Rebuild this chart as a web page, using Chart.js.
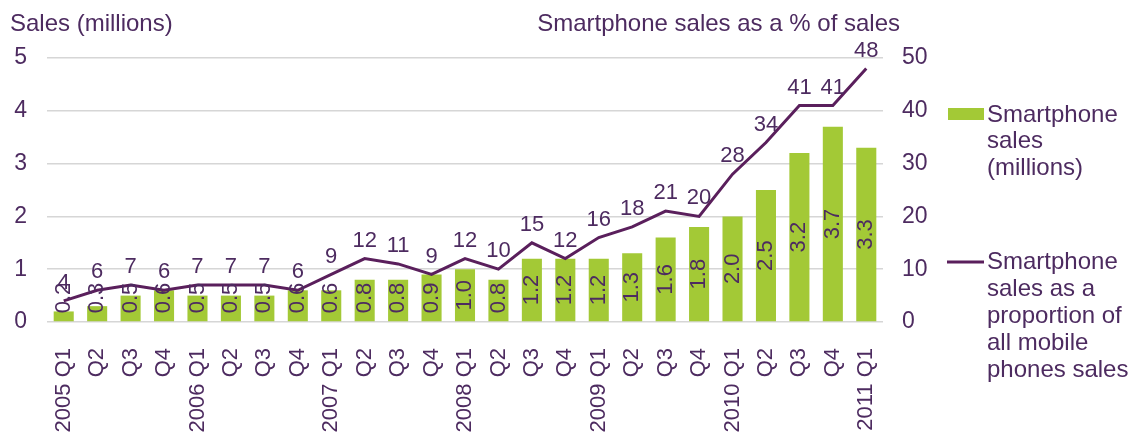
<!DOCTYPE html>
<html>
<head>
<meta charset="utf-8">
<script src="https://cdn.jsdelivr.net/npm/chart.js@4.4.1/dist/chart.umd.min.js"></script>
<style>
  html, body { margin: 0; padding: 0; background: #fff; }
  #wrap { width: 1139px; height: 437px; }
</style>
</head>
<body>
<div id="wrap"><canvas id="salesChart" width="1139" height="437"></canvas></div>
<script>
  // data
  const quarters = [
    "2005 Q1", "Q2", "Q3", "Q4",
    "2006 Q1", "Q2", "Q3", "Q4",
    "2007 Q1", "Q2", "Q3", "Q4",
    "2008 Q1", "Q2", "Q3", "Q4",
    "2009 Q1", "Q2", "Q3", "Q4",
    "2010 Q1", "Q2", "Q3", "Q4",
    "2011 Q1"
  ];
  const salesMillions = [
    0.2, 0.3, 0.5, 0.6, 0.5, 0.5, 0.5, 0.6, 0.6, 0.8, 0.8, 0.9,
    1.0, 0.8, 1.2, 1.2, 1.2, 1.3, 1.6, 1.8, 2.0, 2.5, 3.2, 3.7, 3.3
  ];
  const sharePercent = [
    4, 6, 7, 6, 7, 7, 7, 6, 9, 12, 11, 9,
    12, 10, 15, 12, 16, 18, 21, 20, 28, 34, 41, 41, 48
  ];
  const leftTicks = [0, 1, 2, 3, 4, 5];
  const rightTicks = [0, 10, 20, 30, 40, 50];

  const green = "#a3c936";
  const purple = "#5a1f5c";
  const textColor = "#4d2b60";
  const FONT = "'Liberation Sans', Arial, sans-serif";

  // titles, legend and value labels
  const extras = {
    id: "extras",
    afterDatasetsDraw(chart) {
      const ctx = chart.ctx;
      ctx.save();
      ctx.fillStyle = textColor;

      // bar labels, rotated, inside the bars
      ctx.font = "22px " + FONT;
      chart.getDatasetMeta(1).data.forEach(function (bar, i) {
        const txt = salesMillions[i].toFixed(1);
        const w = ctx.measureText(txt).width;
        const mid = (bar.y + bar.base) / 2;
        const cy = Math.min(mid, bar.base - 8 - w / 2);
        ctx.save();
        ctx.translate(bar.x, cy);
        ctx.rotate(-Math.PI / 2);
        ctx.textAlign = "center";
        ctx.textBaseline = "middle";
        ctx.fillText(txt, 0, 0);
        ctx.restore();
      });

      // line labels above the points
      ctx.textAlign = "center";
      ctx.textBaseline = "bottom";
      chart.getDatasetMeta(0).data.forEach(function (pt, i) {
        ctx.fillText(String(sharePercent[i]), pt.x, pt.y - 7);
      });
      ctx.restore();
    },
    afterDraw(chart) {
      const ctx = chart.ctx;
      ctx.save();
      ctx.fillStyle = textColor;
      ctx.font = "24px " + FONT;
      ctx.textBaseline = "middle";

      ctx.textAlign = "left";
      ctx.fillText("Sales (millions)", 10, 24);
      ctx.textAlign = "right";
      ctx.fillText("Smartphone sales as a % of sales", 900, 24);

      // legend
      ctx.textAlign = "left";
      ctx.fillStyle = green;
      ctx.fillRect(948, 108, 36, 12);
      ctx.fillStyle = textColor;
      ["Smartphone", "sales", "(millions)"].forEach(function (t, i) {
        ctx.fillText(t, 987, 115 + i * 26.5);
      });

      ctx.strokeStyle = purple;
      ctx.lineWidth = 3;
      ctx.beginPath();
      ctx.moveTo(947, 262);
      ctx.lineTo(984, 262);
      ctx.stroke();
      ["Smartphone", "sales as a", "proportion of", "all mobile", "phones sales"].forEach(function (t, i) {
        ctx.fillText(t, 987, 262 + i * 27);
      });
      ctx.restore();
    }
  };

  const ctx = document.getElementById("salesChart");

  new Chart(ctx, {
    type: "bar",
    data: {
      labels: quarters,
      datasets: [
        {
          type: "line",
          label: "Smartphone sales as a proportion of all mobile phones sales",
          data: sharePercent,
          yAxisID: "y1",
          borderColor: purple,
          borderWidth: 3,
          pointRadius: 0,
          tension: 0,
          order: 0,
        },
        {
          label: "Smartphone sales (millions)",
          data: salesMillions,
          yAxisID: "y",
          backgroundColor: green,
          barPercentage: 0.6,
          categoryPercentage: 1.0,
          order: 1,
        },
      ],
    },
    options: {
      responsive: false,
      animation: false,
      layout: { padding: { top: 58, left: 0, right: 0, bottom: 0 } },
      plugins: {
        legend: { display: false },
        tooltip: { enabled: false },
      },
      scales: {
        x: {
          offset: true,
          grid: { display: false },
          border: { display: false },
          ticks: {
            color: textColor,
            font: { family: FONT, size: 22 },
            maxRotation: 90,
            minRotation: 90,
            autoSkip: false,
            padding: 18,
          },
          afterFit: function (scale) { scale.height = 115; },
        },
        y: {
          position: "left",
          min: leftTicks[0],
          max: leftTicks[leftTicks.length - 1],
          afterBuildTicks: function (scale) {
            scale.ticks = leftTicks.map(function (v) { return { value: v }; });
          },
          grid: { color: "#d6d6d6", lineWidth: 1.5, drawTicks: false },
          border: { display: false },
          ticks: {
            color: textColor,
            font: { family: FONT, size: 23 },
            padding: 20,
          },
          afterFit: function (scale) { scale.width = 47; },
        },
        y1: {
          position: "right",
          min: rightTicks[0],
          max: rightTicks[rightTicks.length - 1],
          afterBuildTicks: function (scale) {
            scale.ticks = rightTicks.map(function (v) { return { value: v }; });
          },
          grid: { drawOnChartArea: false, drawTicks: false },
          border: { display: false },
          ticks: {
            color: textColor,
            font: { family: FONT, size: 23 },
            padding: 19,
          },
          afterFit: function (scale) { scale.width = 256; },
        },
      },
    },
    plugins: [extras],
  });
</script>
</body>
</html>
